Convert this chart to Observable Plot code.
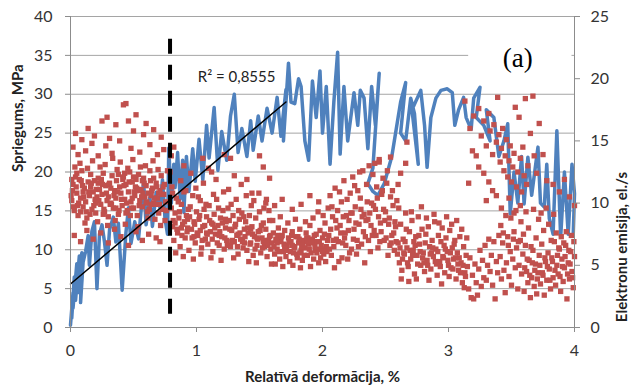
<!DOCTYPE html>
<html><head><meta charset="utf-8">
<script src="https://cdn.jsdelivr.net/npm/d3@7"></script>
<script src="https://cdn.jsdelivr.net/npm/@observablehq/plot@0.6"></script>
<style>body{margin:0;background:#fff}</style>
</head><body><div id="chart"></div>
<script>
const xTicks = [0, 1, 2, 3, 4];
const stressTicks = [0, 5, 10, 15, 20, 25, 30, 35, 40];
const emissionTicks = [0, 5, 10, 15, 20, 25];
const stressMax = 40, emissionMax = 25;
const xLabel = "Relatīvā deformācija, %";
const yLabel = "Spriegums, MPa";
const y2Label = "Elektronu emisija, el./s";
const r2Label = "R² = 0,8555";
const panelLabel = "(a)";
const yieldStrain = 0.79;
const yieldSpan = [1.7, 37.2];
const fitX = [0, 1.71];
const fitY = [5.6, 29.0];
const labelBox = [{x1: 3.16, x2: 3.98, y1: 30.8, y2: 39.2}];

// stress curve: [strain %, MPa] in recorded order
const stress = [[0.00,0.3],[0.02,4.5],[0.01,1.2],[0.03,6.5],[0.02,2.5],[0.05,8.2],[0.04,3.5],[0.07,9.2],[0.06,4.5],[0.09,9.6],[0.08,3.2],[0.10,8.4],[0.12,9.8],[0.14,11.8],[0.15,8.0],[0.17,12.4],[0.19,13.6],[0.21,5.0],[0.23,12.0],[0.25,13.2],[0.27,11.0],[0.29,8.0],[0.31,12.6],[0.34,14.2],[0.36,11.0],[0.38,13.4],[0.41,4.8],[0.44,12.2],[0.46,15.4],[0.48,10.8],[0.51,13.6],[0.54,11.4],[0.56,15.0],[0.58,18.8],[0.60,13.2],[0.63,16.8],[0.65,13.0],[0.68,17.4],[0.71,15.4],[0.73,19.0],[0.75,14.0],[0.77,12.0],[0.78,23.1],[0.80,16.0],[0.82,21.0],[0.83,18.0],[0.85,22.5],[0.87,16.5],[0.89,21.5],[0.90,14.8],[0.92,22.0],[0.94,17.5],[0.97,23.0],[0.99,18.8],[1.02,24.2],[1.05,19.0],[1.08,26.0],[1.10,21.8],[1.14,28.3],[1.17,20.2],[1.20,25.2],[1.24,21.5],[1.27,27.2],[1.30,30.0],[1.33,22.5],[1.36,25.6],[1.40,22.0],[1.43,26.6],[1.45,22.8],[1.49,27.2],[1.52,24.0],[1.56,28.2],[1.60,25.0],[1.64,29.6],[1.67,24.6],[1.71,30.6],[1.69,24.0],[1.73,34.0],[1.75,29.0],[1.78,28.8],[1.81,32.0],[1.83,31.0],[1.86,24.0],[1.89,21.5],[1.92,31.7],[1.95,27.0],[1.98,33.0],[2.00,25.0],[2.03,31.0],[2.06,21.0],[2.09,29.0],[2.12,35.4],[2.14,22.3],[2.17,31.0],[2.20,24.0],[2.25,30.2],[2.28,26.0],[2.30,30.5],[2.33,29.5],[2.36,23.0],[2.39,31.0],[2.42,26.0],[2.45,32.7],[2.40,20.5],[2.36,18.5],[2.40,17.5],[2.44,17.0],[2.49,18.5],[2.55,22.0],[2.60,27.0],[2.62,29.0],[2.66,31.5],[2.62,25.0],[2.66,24.0],[2.70,29.5],[2.73,27.5],[2.76,21.0],[2.71,28.0],[2.78,30.5],[2.81,26.0],[2.83,20.6],[2.86,27.0],[2.90,29.5],[2.94,30.5],[2.99,30.7],[3.03,30.2],[3.05,26.0],[3.08,28.0],[3.12,29.6],[3.14,27.0],[3.18,25.5],[3.20,29.5],[3.25,30.9],[3.22,27.0],[3.28,26.0],[3.33,24.0],[3.30,28.0],[3.36,27.0],[3.40,22.0],[3.44,24.0],[3.47,26.2],[3.49,14.6],[3.52,20.0],[3.55,16.0],[3.58,22.0],[3.60,15.9],[3.63,21.9],[3.66,17.0],[3.71,23.2],[3.73,16.0],[3.76,15.5],[3.78,21.0],[3.80,14.0],[3.83,12.0],[3.86,25.3],[3.89,11.6],[3.92,20.0],[3.95,12.0],[3.98,21.0],[4.00,17.2],[3.99,12.0]];

// electron emission: [strain %, el./s]
const emission = [
[0.01,10.2],[0.02,11.5],[0.03,9.4],[0.04,12.1],[0.05,10.8],[0.06,9.0],[0.07,11.9],[0.08,10.4],[0.09,12.6],[0.10,9.7],[0.11,11.2],[0.12,10.1],[0.13,8.8],[0.14,11.7],[0.15,10.6],[0.16,12.3],[0.17,9.5],[0.18,10.9],[0.19,11.8],[0.20,9.2],[0.21,10.5],[0.22,12.0],[0.23,11.1],[0.24,9.9],[0.25,10.7],[0.26,12.4],[0.27,9.3],[0.28,11.4],[0.29,10.2],[0.30,8.9],[0.31,11.6],[0.32,10.0],[0.33,12.2],[0.34,9.6],[0.35,11.0],[0.36,10.4],[0.37,12.7],[0.38,9.1],[0.39,11.3],[0.40,10.8],[0.41,9.8],[0.42,12.1],[0.43,10.3],[0.44,11.5],[0.45,9.4],[0.46,10.9],[0.47,12.5],[0.48,10.1],[0.49,11.7],[0.50,9.6],[0.51,10.6],[0.52,11.9],[0.53,9.0],[0.54,12.3],[0.55,10.2],[0.56,11.1],[0.57,9.7],[0.58,12.0],[0.59,10.5],[0.60,11.4],[0.61,9.3],[0.62,10.8],[0.63,12.6],[0.64,9.9],[0.65,11.2],[0.66,10.0],[0.67,8.7],[0.68,11.6],[0.69,10.4],[0.70,9.2],[0.71,11.0],[0.72,12.2],[0.73,9.5],[0.74,10.7],[0.75,8.6],
[0.015,11.0],[0.035,12.9],[0.055,9.8],[0.075,13.2],[0.095,11.4],[0.115,8.4],[0.135,12.8],[0.155,9.1],[0.175,13.4],[0.195,10.3],[0.215,8.5],[0.235,12.9],[0.255,11.5],[0.275,13.1],[0.295,8.2],[0.315,9.9],[0.335,13.6],[0.355,8.6],[0.375,10.9],[0.395,13.3],[0.415,11.9],[0.435,8.3],[0.455,12.8],[0.475,9.0],[0.495,13.5],[0.515,11.3],[0.535,8.1],[0.555,12.9],[0.575,10.8],[0.595,13.0],[0.615,8.8],[0.635,11.8],[0.655,13.4],[0.675,9.9],[0.695,12.7],[0.715,8.2],[0.735,11.3],[0.755,10.1],[0.77,12.6],[0.76,9.4],
[0.005,10.6],[0.025,9.7],[0.045,11.3],[0.065,10.0],[0.085,11.8],[0.105,10.5],[0.125,9.3],[0.145,10.9],[0.165,11.6],[0.185,9.8],[0.205,11.1],[0.225,10.2],[0.245,11.9],[0.265,9.5],[0.285,10.8],[0.305,11.5],[0.325,9.9],[0.345,10.6],[0.365,11.8],[0.385,9.4],[0.405,10.3],[0.425,11.4],[0.445,10.0],[0.465,11.7],[0.485,9.6],[0.505,10.9],[0.525,11.2],[0.545,9.8],[0.565,10.5],[0.585,11.6],[0.605,10.1],[0.625,9.5],[0.645,11.0],[0.665,10.4],[0.685,11.3],[0.705,9.9],[0.725,10.7],[0.745,11.5],[0.01,11.9],[0.05,12.4],[0.1,10.9],[0.16,11.3],[0.2,10.0],[0.26,9.1],[0.32,11.2],[0.38,12.3],[0.44,9.2],[0.49,10.4],[0.54,11.0],[0.6,10.0],[0.66,12.0],[0.7,10.8],[0.08,9.3],[0.22,11.6],[0.36,9.6],[0.5,12.1],[0.64,10.6],[0.3,10.5],[0.43,12.4],[0.57,11.8],
[0.02,14.5],[0.04,15.6],[0.06,13.9],[0.09,15.1],[0.12,14.2],[0.14,16.0],[0.17,14.8],[0.19,15.4],[0.22,13.8],[0.25,16.6],[0.28,14.6],[0.29,16.9],[0.31,15.2],[0.33,14.0],[0.36,16.3],[0.39,15.0],[0.42,17.9],[0.44,18.0],[0.46,16.6],[0.48,14.4],[0.50,15.8],[0.52,17.1],[0.55,14.1],[0.58,15.5],[0.60,16.4],[0.63,14.7],[0.66,15.9],[0.69,13.9],[0.72,15.3],[0.74,14.3],[0.03,7.4],[0.08,6.9],[0.13,7.8],[0.18,7.1],[0.24,7.6],[0.30,6.8],[0.35,7.9],[0.40,7.3],[0.46,6.6],[0.52,7.7],[0.57,7.0],[0.62,7.5],[0.68,7.2],[0.71,6.9],[0.80,13.8],[0.82,14.5],[0.79,12.5],[0.81,10.8],
[0.80,9.6],[0.81,8.1],[0.82,7.0],[0.83,9.2],[0.84,10.4],[0.85,7.6],[0.86,8.8],[0.87,6.5],[0.88,9.9],[0.89,8.3],[0.90,10.9],[0.91,7.2],[0.92,9.0],[0.93,8.0],[0.94,6.2],[0.95,9.7],[0.96,7.9],[0.97,10.6],[0.98,8.5],[0.99,6.8],[1.00,9.3],[1.01,7.4],[1.02,8.7],[1.03,10.2],[1.04,6.4],[1.05,8.1],[1.06,9.5],[1.07,7.1],[1.08,8.9],[1.09,6.7],[1.10,9.8],[1.11,7.7],[1.12,8.4],[1.13,6.1],[1.14,9.1],[1.15,7.5],[1.16,10.3],[1.17,8.2],[1.18,6.6],[1.19,8.8],[1.20,7.3],[1.21,9.4],[1.22,6.3],[1.23,8.0],[1.24,7.0],[1.25,9.6],[1.26,8.6],[1.27,6.5],[1.28,7.8],[1.29,9.0],[1.30,6.9],[1.31,8.3],[1.32,7.4],[1.33,5.9],[1.34,8.7],[1.35,7.1],[1.36,9.2],[1.37,6.4],[1.38,7.9],[1.39,8.5],[1.40,6.2],[1.41,7.6],[1.42,9.0],[1.43,6.8],[1.44,8.1],[1.45,5.8],[1.46,7.3],[1.47,8.8],[1.48,6.6],[1.49,7.7],[1.50,9.3],[1.51,6.0],[1.52,7.2],[1.53,8.4],[1.54,6.5],[1.55,7.9],[1.56,5.7],[1.57,7.0],[1.58,8.6],[1.59,6.3],
[0.805,11.3],[0.835,6.0],[0.855,10.1],[0.875,11.8],[0.895,5.7],[0.915,11.0],[0.935,9.5],[0.955,12.4],[0.975,5.5],[0.995,11.2],[1.015,10.5],[1.035,5.9],[1.055,11.6],[1.075,9.9],[1.095,12.8],[1.115,5.6],[1.135,10.7],[1.155,11.9],[1.175,9.6],[1.195,5.4],[1.215,10.9],[1.235,8.5],[1.255,11.1],[1.275,9.9],[1.295,5.6],[1.315,10.3],[1.335,9.4],[1.355,11.5],[1.375,8.9],[1.395,10.6],[1.415,5.3],[1.435,9.8],[1.455,10.2],[1.475,5.2],[1.495,10.8],[1.515,8.2],[1.535,9.6],[1.555,10.3],[1.575,9.4],[1.595,5.1],
[0.815,8.6],[0.845,7.9],[0.865,9.3],[0.885,7.4],[0.905,8.5],[0.925,7.7],[0.945,8.9],[0.965,7.2],[0.985,8.3],[1.005,7.6],[1.025,9.0],[1.045,7.0],[1.065,8.2],[1.085,7.5],[1.105,8.6],[1.125,7.1],[1.145,8.0],[1.165,6.8],[1.185,7.7],[1.205,8.4],[1.225,7.2],[1.245,6.6],[1.265,7.9],[1.285,7.0],[1.305,8.1],[1.325,6.5],[1.345,7.6],[1.365,6.9],[1.385,7.3],[1.405,8.0],[1.425,6.7],[1.445,7.5],[1.465,6.3],[1.485,7.1],[1.505,7.8],[1.525,6.4],[1.545,7.0],[1.565,6.6],[1.585,7.4],[0.83,8.4],[0.88,8.0],[0.93,8.7],[0.98,7.3],[1.03,7.8],[1.08,7.6],[1.13,8.3],[1.18,7.4],[1.23,8.7],[1.28,6.9],[1.33,7.5],[1.38,6.8],[1.43,7.9],[1.48,7.2],[1.53,6.9],[1.58,7.3],
[0.90,13.0],[1.05,13.6],[1.12,12.5],[1.22,13.9],[1.27,13.6],[1.30,12.2],[1.40,11.9],[1.44,10.8],[1.50,13.8],[1.53,12.9],[1.55,10.0],[1.58,12.0],
[1.60,6.8],[1.61,7.6],[1.62,5.9],[1.63,7.1],[1.64,6.3],[1.65,8.0],[1.66,5.5],[1.67,6.9],[1.68,7.4],[1.69,6.1],[1.70,7.8],[1.71,5.7],[1.72,6.6],[1.73,7.2],[1.74,5.3],[1.75,6.9],[1.76,7.7],[1.77,6.0],[1.78,6.5],[1.79,7.3],[1.80,5.6],[1.81,6.8],[1.82,7.9],[1.83,6.2],[1.84,5.4],[1.85,7.0],[1.86,6.4],[1.87,7.6],[1.88,5.8],[1.89,6.7],[1.90,8.2],[1.91,6.0],[1.92,7.1],[1.93,5.5],[1.94,6.9],[1.95,7.5],[1.96,6.3],[1.97,5.2],[1.98,7.8],[1.99,6.6],[2.00,7.2],[2.01,5.9],[2.02,8.4],[2.03,6.5],[2.04,7.0],
[1.605,8.6],[1.625,5.1],[1.645,7.4],[1.665,8.9],[1.685,4.9],[1.705,6.4],[1.725,8.4],[1.745,6.1],[1.765,5.0],[1.785,8.7],[1.805,7.3],[1.825,4.8],[1.845,6.6],[1.865,8.5],[1.885,7.2],[1.905,4.9],[1.925,8.8],[1.945,6.2],[1.965,9.3],[1.985,5.6],[2.005,9.0],[2.025,5.3],[2.045,9.6],
[1.615,6.5],[1.635,7.0],[1.655,6.1],[1.675,7.3],[1.695,6.7],[1.715,6.2],[1.735,6.9],[1.755,7.4],[1.775,6.4],[1.795,5.9],[1.815,7.1],[1.835,6.5],[1.855,5.8],[1.875,7.2],[1.895,6.3],[1.915,6.8],[1.935,7.4],[1.955,6.0],[1.975,6.9],[1.995,6.3],[2.015,7.5],[2.035,6.1],[1.64,6.8],[1.70,6.4],[1.76,6.6],[1.82,6.0],[1.88,6.9],[1.94,6.5],[2.00,6.1],
[1.62,9.8],[1.68,10.3],[1.76,9.5],[1.83,9.9],[1.90,10.6],[1.97,10.1],
[2.05,7.4],[2.06,10.6],[2.07,5.8],[2.08,8.9],[2.09,6.5],[2.10,11.2],[2.11,7.1],[2.12,9.4],[2.13,5.3],[2.14,8.2],[2.15,10.1],[2.16,6.8],[2.17,11.8],[2.18,7.6],[2.19,9.0],[2.20,5.5],[2.21,8.6],[2.22,10.8],[2.23,6.3],[2.24,12.1],[2.25,7.9],[2.26,9.7],[2.27,5.9],[2.28,11.0],[2.29,8.3],[2.30,10.4],[2.31,6.7],[2.32,12.6],[2.33,9.1],[2.34,7.3],[2.35,11.5],[2.36,8.7],[2.37,13.0],[2.38,6.1],[2.39,10.0],[2.40,12.3],[2.41,7.8],[2.42,9.5],[2.43,11.3],[2.44,6.4],[2.45,13.5],[2.46,8.4],[2.47,10.7],[2.48,12.0],[2.49,7.0],[2.50,9.3],[2.51,11.6],[2.52,5.8],[2.53,8.8],[2.54,10.5],[2.55,7.4],[2.56,9.8],[2.57,6.2],[2.58,8.1],[2.59,10.2],
[2.055,6.3],[2.075,9.7],[2.095,4.8],[2.115,8.0],[2.135,10.9],[2.155,5.6],[2.175,7.2],[2.195,10.3],[2.215,6.0],[2.235,9.2],[2.255,11.4],[2.275,7.0],[2.295,12.5],[2.315,8.9],[2.335,5.2],[2.355,10.1],[2.375,9.2],[2.395,7.4],[2.415,13.2],[2.435,10.4],[2.455,6.9],[2.475,11.0],[2.495,8.6],[2.515,12.6],[2.535,6.6],[2.555,11.0],[2.575,8.5],[2.595,5.9],
[2.065,7.9],[2.085,7.0],[2.105,8.6],[2.125,6.9],[2.145,7.6],[2.165,8.9],[2.185,6.6],[2.205,7.8],[2.225,9.2],[2.245,7.1],[2.265,8.4],[2.285,6.5],[2.305,9.5],[2.325,7.7],[2.345,8.6],[2.365,7.0],[2.385,8.2],[2.405,9.8],[2.425,7.4],[2.445,8.9],[2.465,7.7],[2.485,9.5],[2.505,7.2],[2.525,8.3],[2.545,6.8],[2.565,7.6],[2.585,6.9],
[2.67,14.9],[2.66,13.2],[2.54,13.7],[2.45,13.3],[2.62,12.4],[2.60,11.5],
[2.60,6.8],[2.61,5.2],[2.62,8.3],[2.63,4.6],[2.64,7.1],[2.65,5.9],[2.66,9.2],[2.67,6.4],[2.68,4.9],[2.69,7.7],[2.70,5.5],[2.71,8.6],[2.72,6.2],[2.73,4.3],[2.74,7.3],[2.75,5.8],[2.76,8.9],[2.77,6.7],[2.78,5.0],[2.79,7.9],[2.80,6.0],[2.81,4.5],[2.82,7.5],[2.83,5.4],[2.84,8.1],[2.85,6.5],[2.86,4.7],[2.87,7.0],[2.88,5.7],[2.89,8.5],[2.90,6.3],[2.91,4.2],[2.92,7.4],[2.93,5.3],[2.94,6.9],[2.95,8.0],[2.96,5.6],[2.97,4.4],[2.98,7.2],[2.99,6.1],[3.00,5.0],[3.01,7.8],[3.02,4.8],[3.03,6.4],[3.04,5.5],[3.05,7.0],[3.06,3.9],[3.07,6.0],[3.08,4.6],[3.09,7.3],[3.10,5.2],[3.11,3.6],[3.12,6.5],[3.13,4.4],[3.14,5.8],
[2.605,9.6],[2.625,3.9],[2.645,6.0],[2.665,7.9],[2.685,3.7],[2.705,9.3],[2.725,6.9],[2.745,3.9],[2.765,7.4],[2.785,9.7],[2.805,5.2],[2.825,8.8],[2.845,3.8],[2.865,6.0],[2.885,9.1],[2.905,5.1],[2.925,8.4],[2.945,3.5],[2.965,6.6],[2.985,8.9],[3.005,4.1],[3.025,8.3],[3.045,6.7],[3.065,8.6],[3.085,5.6],[3.105,7.9],[3.125,3.2],[3.145,7.2],
[2.615,6.4],[2.635,5.5],[2.655,6.9],[2.675,5.2],[2.695,6.2],[2.715,5.8],[2.735,6.6],[2.755,5.1],[2.775,6.1],[2.795,5.6],[2.815,6.8],[2.835,5.0],[2.855,5.9],[2.875,6.4],[2.895,5.3],[2.915,6.1],[2.935,4.9],[2.955,5.7],[2.975,6.3],[2.995,5.4],[3.015,6.0],[3.035,4.7],[3.055,5.6],[3.075,5.1],[3.095,4.4],[3.115,5.0],[3.135,4.1],
[3.15,4.9],[3.16,3.1],[3.17,5.6],[3.18,2.4],[3.19,4.2],[3.20,2.3],[3.21,5.1],[3.22,3.6],[3.23,2.6],[3.24,4.7],[3.25,6.2],[3.26,3.3],[3.27,5.4],[3.28,4.0],[3.29,6.6],[3.30,3.8],[3.31,5.0],[3.32,7.1],[3.33,4.5],[3.34,5.8],[3.35,3.4],[3.36,6.9],[3.37,2.3],[3.38,5.3],[3.39,4.4],[3.40,7.4],
[3.13,18.2],[3.17,16.0],[3.20,17.0],[3.24,17.6],[3.26,15.4],[3.28,16.6],[3.30,14.6],[3.32,17.2],[3.33,15.8],[3.35,13.9],[3.36,16.3],[3.38,14.9],[3.39,18.5],[3.40,15.5],[3.41,13.3],[3.42,14.4],[3.43,16.0],[3.44,12.6],[3.45,13.8],[3.46,15.1],[3.47,12.1],[3.48,13.4],[3.49,14.6],[3.50,11.7],[3.51,12.9],[3.52,14.0],[3.53,17.7],[3.54,11.3],[3.55,12.5],[3.56,16.9],[3.57,13.6],[3.58,10.9],[3.59,14.5],[3.60,12.2],[3.61,18.4],[3.62,11.5],[3.63,13.0],[3.65,15.6],[3.67,18.6],[3.68,13.8],[3.70,12.4],[3.72,16.4],[3.75,13.9],[3.78,11.8],[3.16,11.6],[3.24,12.9],[3.32,11.7],[3.22,13.8],[3.28,12.4],[3.19,14.2],[3.35,11.0],[3.30,10.2],[3.38,10.6],[3.42,9.6],[3.48,10.4],[3.52,9.2],[3.57,9.8],
[3.41,5.7],[3.42,3.9],[3.43,6.8],[3.44,4.6],[3.45,2.8],[3.46,5.2],[3.47,7.3],[3.48,4.1],[3.49,6.1],[3.50,3.4],[3.51,5.5],[3.52,7.7],[3.53,4.8],[3.54,6.4],[3.55,3.1],[3.56,5.0],[3.57,7.0],[3.58,4.3],[3.59,5.9],[3.60,2.9],[3.61,6.6],[3.62,4.5],[3.63,3.6],[3.64,5.4],[3.65,2.4],[3.66,4.0],[3.67,6.2],[3.68,3.3],[3.69,5.1],[3.70,2.7],[3.71,4.4],[3.72,5.8],[3.73,3.5],[3.74,6.7],[3.75,4.2],[3.76,2.6],[3.77,5.3],[3.78,3.8],[3.79,6.0],[3.80,4.7],[3.81,3.1],[3.82,5.6],[3.83,4.0],[3.84,6.9],[3.85,3.4],[3.86,5.0],[3.87,4.3],[3.88,6.3],[3.89,2.9],[3.90,5.5],[3.91,3.7],[3.92,4.8],[3.93,6.6],[3.94,2.3],[3.95,5.2],[3.96,3.9],[3.97,6.1],[3.98,4.5],[3.99,3.2],[4.00,5.7],
[3.415,8.2],[3.435,7.6],[3.455,9.0],[3.475,6.6],[3.495,8.8],[3.515,7.1],[3.535,9.4],[3.555,6.9],[3.575,8.5],[3.595,7.5],[3.615,9.3],[3.635,8.0],[3.655,6.5],[3.675,9.5],[3.695,7.2],[3.715,8.7],[3.735,9.2],[3.755,7.8],[3.775,9.6],[3.795,8.3],[3.815,7.0],[3.835,9.1],[3.855,7.6],[3.875,6.4],[3.895,7.3],[3.915,6.8],[3.935,7.7],[3.955,6.2],[3.975,7.4],[3.995,6.9],
[3.605,4.8],[3.625,5.5],[3.645,4.2],[3.665,5.2],[3.685,4.6],[3.705,3.9],[3.725,5.0],[3.745,4.4],[3.765,5.6],[3.785,4.9],[3.805,3.8],[3.825,5.3],[3.845,4.6],[3.865,5.8],[3.885,4.1],[3.905,4.9],[3.925,5.7],[3.945,4.3],[3.965,5.1],[3.985,4.0],
[3.92,11.9],[3.96,10.5],[3.88,10.9],[3.83,11.5],[4.00,9.8]
];

const k = stressMax / emissionMax;
const chart = Plot.plot({
  width: 635, height: 390,
  marginLeft: 70, marginRight: 61, marginTop: 16, marginBottom: 63,
  x: {domain: [0, 4]},
  y: {domain: [0, stressMax]},
  style: {fontFamily: "Lato, 'Liberation Sans', sans-serif", fontSize: "16px", color: "#333", background: "#fff"},
  marks: [
    Plot.ruleY(stressTicks.slice(1), {stroke: "#a5a5a5", strokeWidth: 1}),
    Plot.rect(labelBox, {x1: "x1", x2: "x2", y1: "y1", y2: "y2", fill: "#fff"}),
    Plot.line(stress, {x: d => d[0], y: d => d[1], stroke: "#4f81bd", strokeWidth: 3.5, strokeLinejoin: "round", strokeLinecap: "round"}),
    Plot.dot(emission, {x: d => d[0], y: d => d[1] * k, symbol: "square", r: 3, fill: "#c0504d", stroke: null}),
    Plot.line(fitX.map((x, i) => [x, fitY[i]]), {x: d => d[0], y: d => d[1], stroke: "#000", strokeWidth: 1.5}),
    Plot.ruleX([yieldStrain], {y1: yieldSpan[0], y2: yieldSpan[1], stroke: "#000", strokeWidth: 4, strokeDasharray: "15,11"}),
    Plot.text([r2Label], {x: 1.01, y: 32.2, text: d => d, textAnchor: "start", fontSize: 15, fill: "#222"}),
    Plot.text([panelLabel], {x: 3.55, y: 34.6, text: d => d, fontFamily: "'Liberation Serif', 'DejaVu Serif', serif", fontSize: 27, fill: "#000"}),
    Plot.ruleX([0], {y1: 0, y2: stressMax, stroke: "#8c8c8c"}),
    Plot.ruleX([4], {y1: 0, y2: stressMax, stroke: "#8c8c8c"}),
    Plot.ruleY([0], {stroke: "#8c8c8c"}),
    Plot.axisY({ticks: stressTicks, tickSize: 5, tickPadding: 13, stroke: "#8c8c8c", fill: "#333", label: null}),
    Plot.axisY({anchor: "right", ticks: emissionTicks.map(e => e * k), tickFormat: d => String(Math.round(d / k)), tickSize: 5, tickPadding: 11, stroke: "#8c8c8c", fill: "#333", label: null}),
    Plot.axisX({ticks: xTicks, tickFormat: d => String(d), tickSize: 5, tickPadding: 12, stroke: "#8c8c8c", fill: "#333", label: null}),
    Plot.text([yLabel], {frameAnchor: "left", dx: -52, rotate: -90, text: d => d, fontWeight: "bold", fontSize: 15, fill: "#222"}),
    Plot.text([y2Label], {frameAnchor: "right", dx: 48, rotate: -90, text: d => d, fontWeight: "bold", fontSize: 15, fill: "#222"}),
    Plot.text([xLabel], {frameAnchor: "bottom", dy: 54, text: d => d, fontWeight: "bold", fontSize: 15, fill: "#222"})
  ]
});
document.getElementById("chart").appendChild(chart);
</script>
</body></html>
